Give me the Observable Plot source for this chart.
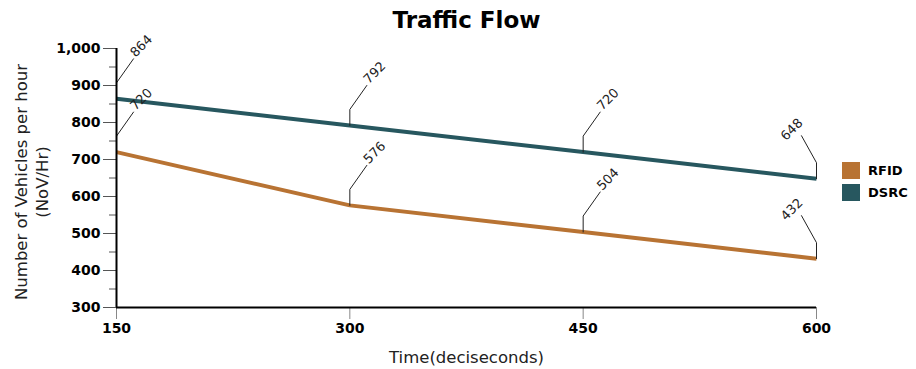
<!DOCTYPE html>
<html>
<head>
<meta charset="utf-8">
<script src="https://cdn.jsdelivr.net/npm/d3@7"></script>
<script src="https://cdn.jsdelivr.net/npm/@observablehq/plot@0.6"></script>
<style>
  html, body { margin: 0; padding: 0; background: #fff; }
  body { font-family: "DejaVu Sans", Verdana, sans-serif; }
  #wrap { position: relative; width: 916px; height: 369px; }
  #legend { position: absolute; left: 842px; top: 162px; }
  .item { display: flex; align-items: center; height: 17px; margin-bottom: 5px; }
  .sw { width: 18px; height: 17px; margin-right: 8px; }
  .lab { font-weight: bold; font-size: 13px; color: #000; }
</style>
</head>
<body>
<div id="wrap"></div>
<script>
const title = "Traffic Flow";
const xTitle = "Time(deciseconds)";
const yTitle = "Number of Vehicles per hour\n(NoV/Hr)";
const times = [150, 300, 450, 600];
const seriesNames = ["RFID", "DSRC"];
const rfid = [720, 576, 504, 432];
const dsrc = [864, 792, 720, 648];
const seriesColors = ["#b87333", "#27575f"];
const yTicks = [300, 400, 500, 600, 700, 800, 900, 1000];
const yMinor = [350, 450, 550, 650, 750, 850, 950];
const xTicks = [150, 300, 450, 600];

const values = [rfid, dsrc];
const data = seriesNames.flatMap((s, k) => times.map((t, i) => ({series: s, time: t, value: values[k][i]})));
const lastT = times[times.length - 1];
const inner = data.filter(d => d.time !== lastT);
const outer = data.filter(d => d.time === lastT);

const leaderRight = {draw(ctx) { ctx.moveTo(0, 0); ctx.lineTo(0, -16); ctx.lineTo(17, -40); }};
const leaderLeft = {draw(ctx) { ctx.moveTo(0, 0); ctx.lineTo(0, -16); ctx.lineTo(-15, -43); }};

const font = "DejaVu Sans, Verdana, sans-serif";
const fmt = d3.format(",");

const chart = Plot.plot({
  width: 916,
  height: 369,
  marginLeft: 116,
  marginRight: 100,
  marginTop: 48,
  marginBottom: 62,
  style: {fontFamily: font, background: "#fff", color: "#000", overflow: "visible"},
  x: {domain: [150, 600]},
  y: {domain: [300, 1000]},
  color: {domain: seriesNames, range: seriesColors},
  marks: [
    Plot.axisY({ticks: yMinor, tickSize: 7, tickFormat: () => "", label: null, stroke: "#555"}),
    Plot.axisY({ticks: yTicks, tickSize: 13, tickPadding: 3, tickFormat: fmt, label: null,
      stroke: "#555", fill: "#000", fontSize: 14, fontWeight: "bold"}),
    Plot.axisX({ticks: xTicks, tickSize: 12, tickPadding: 4, tickFormat: fmt, label: null,
      stroke: "#888", fill: "#000", fontSize: 14, fontWeight: "bold"}),
    Plot.line(data, {x: "time", y: "value", stroke: "series", strokeWidth: 4, strokeLinecap: "butt", strokeLinejoin: "miter"}),
    Plot.vector(inner, {x: "time", y: "value", length: 1, anchor: "start", shape: leaderRight, stroke: "#222", strokeWidth: 1}),
    Plot.vector(outer, {x: "time", y: "value", length: 1, anchor: "start", shape: leaderLeft, stroke: "#222", strokeWidth: 1}),
    Plot.text(inner, {x: "time", y: "value", text: d => String(d.value), rotate: -45, textAnchor: "start",
      lineAnchor: "bottom", dx: 19, dy: -41, fontSize: 13, fill: "#222"}),
    Plot.text(outer, {x: "time", y: "value", text: d => String(d.value), rotate: -45, textAnchor: "end",
      lineAnchor: "bottom", dx: -13, dy: -55, fontSize: 13, fill: "#222"}),
    Plot.ruleX([150], {stroke: "#000", strokeWidth: 2}),
    Plot.ruleY([300], {stroke: "#000", strokeWidth: 2}),
    Plot.text([title], {frameAnchor: "top", lineAnchor: "bottom", dy: -21, fontSize: 23, fontWeight: "bold", fill: "#000"}),
    Plot.text([xTitle], {frameAnchor: "bottom", lineAnchor: "bottom", dy: 55, fontSize: 16.5, fill: "#222"}),
    Plot.text([yTitle], {frameAnchor: "left", textAnchor: "middle", rotate: -90, dx: -86, dy: 4, fontSize: 16.5, lineHeight: 1.3, fill: "#222"})
  ]
});
document.getElementById("wrap").appendChild(chart);

const legend = document.createElement("div");
legend.id = "legend";
seriesNames.forEach((s, i) => {
  const item = document.createElement("div");
  item.className = "item";
  const sw = document.createElement("div");
  sw.className = "sw";
  sw.style.background = seriesColors[i];
  const lab = document.createElement("span");
  lab.className = "lab";
  lab.textContent = s;
  item.appendChild(sw);
  item.appendChild(lab);
  legend.appendChild(item);
});
document.getElementById("wrap").appendChild(legend);
</script>
</body>
</html>
